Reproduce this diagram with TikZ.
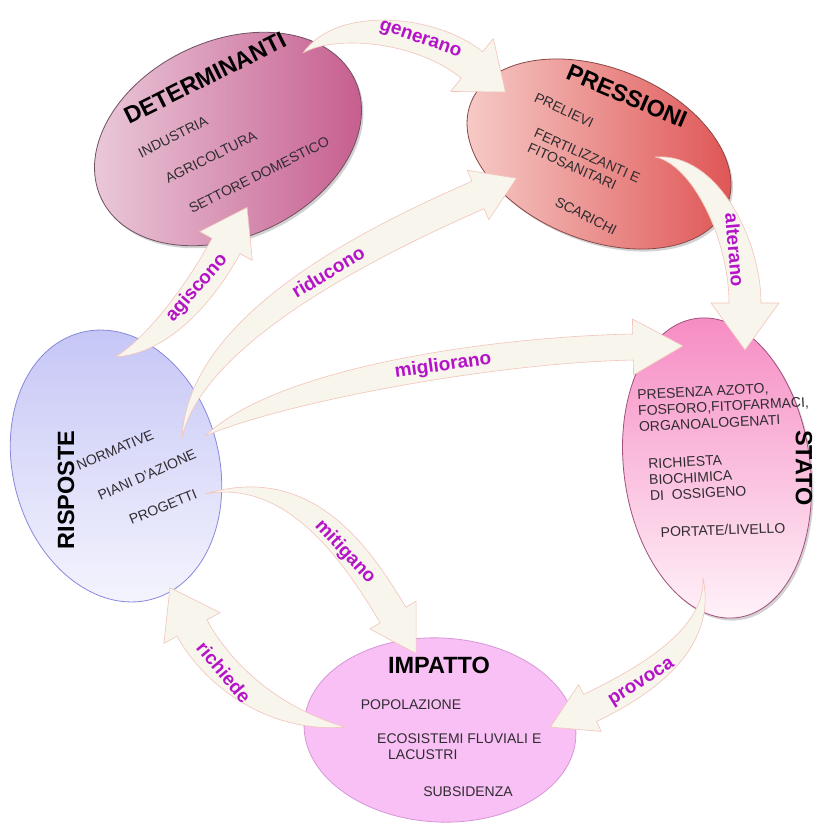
\documentclass[tikz,border=0pt]{standalone}
\usepackage{fontspec}
\setmainfont{Liberation Sans}
\usetikzlibrary{calc,shapes.geometric,shadows}

\definecolor{detlight}{RGB}{236,206,222}
\definecolor{detdark}{RGB}{196,88,138}
\definecolor{detline}{RGB}{112,80,96}
\definecolor{presslight}{RGB}{247,208,204}
\definecolor{pressdark}{RGB}{222,80,80}
\definecolor{pressline}{RGB}{140,70,70}
\definecolor{statotop}{RGB}{246,138,194}
\definecolor{statobot}{RGB}{255,244,250}
\definecolor{statoline}{RGB}{160,80,122}
\definecolor{risptop}{RGB}{196,196,246}
\definecolor{rispbot}{RGB}{246,246,254}
\definecolor{rispline}{RGB}{136,136,220}
\definecolor{impfill}{RGB}{248,192,244}
\definecolor{impline}{RGB}{216,150,216}
\definecolor{flowfill}{RGB}{248,245,236}
\definecolor{flowline}{RGB}{242,196,186}
\definecolor{verbcol}{RGB}{180,20,200}
\definecolor{itemcol}{RGB}{48,44,48}

% tapered block arrow: tail #10, controls #11 #12, head base #13
\newcommand{\flowarrow}[5]{%
  \filldraw[flow] (#10)
    .. controls ($(#11)!#2!90:(#12)$) and ($(#12)!#3!90:(#13)$) .. ($(#13)!#3!-90:(#12)$)
    -- ($(#13)!#4!-90:(#12)$) -- ($(#13)!#5!180:(#12)$)
    -- ($(#13)!#4!90:(#12)$) -- ($(#13)!#3!90:(#12)$)
    .. controls ($(#12)!#3!-90:(#13)$) and ($(#11)!#2!-90:(#12)$) .. (#10) -- cycle;}

\begin{document}
\begin{tikzpicture}[
  x=1pt,y=-1pt,
  bubble/.style={ellipse,line width=0.8pt,inner sep=0pt},
  dropped/.style={drop shadow={shadow xshift=2pt,shadow yshift=-2.5pt,opacity=0.35}},
  flow/.style={fill=flowfill,draw=flowline,line width=0.6pt,line join=round},
  title/.style={font={\fontsize{23.5}{26}\selectfont\bfseries},inner sep=0pt},
  items/.style={font={\fontsize{14}{16}\selectfont},text=itemcol,align=left,inner sep=0pt},
  verb/.style={font={\fontsize{19}{21}\selectfont\bfseries},text=verbcol,inner sep=0pt},
  ]
  \useasboundingbox[fill=white] (0,0) rectangle (815,825);

  % Ellipses
  \node[bubble,dropped,draw=detline,left color=detlight,right color=detdark,
    minimum width=280pt,minimum height=196pt,rotate=25] (det) at (228,139) {};
  \node[bubble,dropped,draw=pressline,left color=presslight,right color=pressdark,
    minimum width=276pt,minimum height=172pt,rotate=-22] (press) at (599,154) {};
  \node[bubble,dropped,draw=statoline,top color=statotop,bottom color=statobot,
    minimum width=186pt,minimum height=302pt,rotate=8] (stato) at (717,468) {};
  \node[bubble,draw=rispline,top color=risptop,bottom color=rispbot,
    minimum width=206pt,minimum height=276pt,rotate=15] (risp) at (116,466) {};
  \node[bubble,draw=impline,fill=impfill,
    minimum width=272pt,minimum height=184pt,rotate=-3] (imp) at (440,730) {};

  % Arrows
  \coordinate (gen0) at (303,53);  \coordinate (gen1) at (335,20);
  \coordinate (gen2) at (425,27);  \coordinate (gen3) at (472,65);
  \coordinate (alt0) at (655,157); \coordinate (alt1) at (705,158);
  \coordinate (alt2) at (745,240); \coordinate (alt3) at (745,303);
  \coordinate (agi0) at (115,357); \coordinate (agi1) at (160,345);
  \coordinate (agi2) at (202,290); \coordinate (agi3) at (226,246);
  \coordinate (rid0) at (182,438); \coordinate (rid1) at (195,330);
  \coordinate (rid2) at (368,243); \coordinate (rid3) at (478,195);
  \coordinate (mig0) at (205,436); \coordinate (mig1) at (280,385);
  \coordinate (mig2) at (490,350); \coordinate (mig3) at (633,347);
  \coordinate (mit0) at (205,494); \coordinate (mit1) at (300,470);
  \coordinate (mit2) at (357,555); \coordinate (mit3) at (393,615);
  \coordinate (pro0) at (703,578); \coordinate (pro1) at (712,640);
  \coordinate (pro2) at (644,682); \coordinate (pro3) at (590,708);
  \coordinate (ric0) at (345,727); \coordinate (ric1) at (280,722);
  \coordinate (ric2) at (221,681); \coordinate (ric3) at (192,628);

  \flowarrow{gen}{15pt}{17pt}{34pt}{43pt}
  \flowarrow{alt}{14pt}{16pt}{34pt}{47pt}
  \flowarrow{agi}{14pt}{16pt}{30pt}{44pt}
  \flowarrow{rid}{16pt}{15pt}{27pt}{42pt}
  \flowarrow{mig}{18pt}{13pt}{28pt}{50pt}
  \flowarrow{mit}{15pt}{15pt}{27pt}{45pt}
  \flowarrow{pro}{12pt}{15pt}{26pt}{44pt}
  \flowarrow{ric}{14pt}{17pt}{32pt}{46pt}

  % Arrow labels
  \node[verb,rotate=-19] (v-gen) at (420,40) {generano};
  \node[verb,rotate=-85] (v-alt) at (735,250) {alterano};
  \node[verb,rotate=49] (v-agi) at (197,288) {agiscono};
  \node[verb,rotate=31] (v-rid) at (328,272) {riducono};
  \node[verb,rotate=8] (v-mig) at (443,366) {migliorano};
  \node[verb,rotate=-47] (v-mit) at (345,552) {mitigano};
  \node[verb,rotate=32] (v-pro) at (642,683) {provoca};
  \node[verb,rotate=-50] (v-ric) at (224,672) {richiede};

  % Determinanti
  \node[title,rotate=26.5] (det-t) at (205,78) {DETERMINANTI};
  \node[items,rotate=26.5] (det-1) at (173,137) {INDUSTRIA};
  \node[items,rotate=26.5] (det-2) at (211,157) {AGRICOLTURA};
  \node[items,rotate=26.5] (det-3) at (259,175) {SETTORE DOMESTICO};

  % Pressioni
  \node[title,rotate=-23] (press-t) at (627,96) {PRESSIONI};
  \node[items,rotate=-25] (press-1) at (564,110) {PRELIEVI};
  \node[items,rotate=-24] (press-2) at (584,163) {FERTILIZZANTI E\\FITOSANITARI};
  \node[items,rotate=-27] (press-3) at (586,216) {SCARICHI};

  % Stato
  \node[title,rotate=-90] (stato-t) at (804,468) {STATO};
  \node[items,anchor=west,rotate=3] (stato-1) at (638,411)
    {PRESENZA AZOTO,\\FOSFORO,FITOFARMACI,\\ORGANOALOGENATI};
  \node[items,anchor=west,rotate=3] (stato-2) at (649,480)
    {RICHIESTA\\BIOCHIMICA\\DI\ \ OSSIGENO};
  \node[items,rotate=2] (stato-3) at (723,530) {PORTATE/LIVELLO};

  % Risposte
  \node[title,rotate=90] (risp-t) at (66,490) {RISPOSTE};
  \node[items,rotate=23] (risp-1) at (115,450) {NORMATIVE};
  \node[items,rotate=24] (risp-2) at (147,475) {PIANI D'AZIONE};
  \node[items,rotate=22] (risp-3) at (163,507) {PROGETTI};

  % Impatto
  \node[title] (imp-t) at (439,665) {IMPATTO};
  \node[items] (imp-1) at (411,705) {POPOLAZIONE};
  \node[items,anchor=west] (imp-2) at (377,747)
    {ECOSISTEMI FLUVIALI E\\\hspace*{11pt}LACUSTRI};
  \node[items] (imp-3) at (468,792) {SUBSIDENZA};
\end{tikzpicture}
\end{document}
